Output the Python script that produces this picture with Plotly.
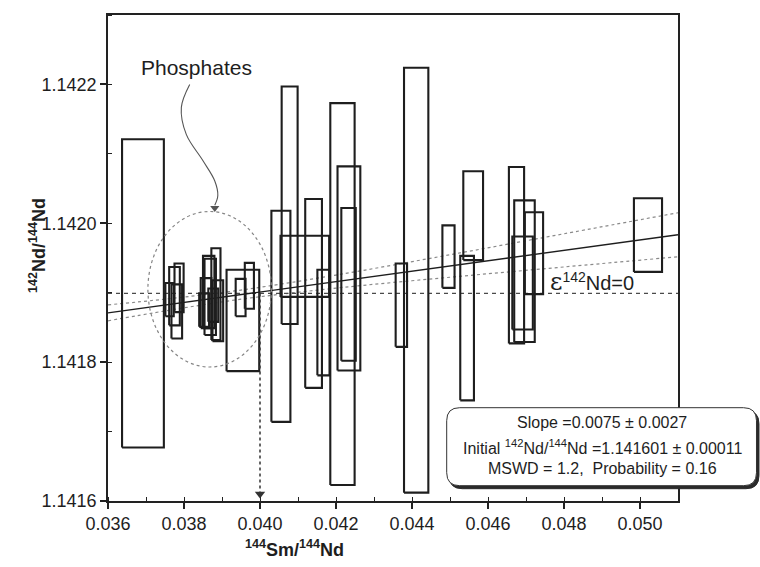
import plotly.graph_objects as go

# ---------------- data ----------------
x_center = [0.03692, 0.03787, 0.03775, 0.03762, 0.03781, 0.03884, 0.03865, 0.03869,
            0.03858, 0.03877, 0.03889, 0.03853, 0.03955, 0.03949, 0.03972, 0.04055,
            0.04078, 0.04118, 0.04141, 0.04167, 0.04217, 0.04234, 0.04233, 0.04411,
            0.04372, 0.04496, 0.04561, 0.04545, 0.04675, 0.04696, 0.04721, 0.04691,
            0.05021]
x_err = [0.00055, 0.00012, 0.00014, 0.00011, 0.00014, 0.00012, 0.00015, 0.00015,
         0.00014, 0.00013, 0.00014, 0.00013, 0.00043, 0.00013, 0.00012, 0.00025,
         0.00021, 0.00064, 0.00022, 0.00016, 0.00032, 0.00030, 0.00019, 0.00032,
         0.00015, 0.00016, 0.00026, 0.00018, 0.00020, 0.00027, 0.00024, 0.00027,
         0.00037]
y_center = [1.141899, 1.141907, 1.141895, 1.141890, 1.141873, 1.141898, 1.141901, 1.141894,
            1.141885, 1.141882, 1.141874, 1.141875, 1.141860, 1.141893, 1.141910, 1.141866,
            1.142026, 1.141938, 1.141899, 1.141857, 1.141898, 1.141935, 1.141912, 1.141918,
            1.141882, 1.141952, 1.142011, 1.141849, 1.141954, 1.141931, 1.141957, 1.141914,
            1.141983]
y_err = [0.000222, 0.000035, 0.000042, 0.000024, 0.000039, 0.000066, 0.000052, 0.000055,
         0.000036, 0.000024, 0.000044, 0.000024, 0.000073, 0.000027, 0.000033, 0.000152,
         0.000171, 0.000044, 0.000136, 0.000076, 0.000275, 0.000147, 0.000110, 0.000306,
         0.000060, 0.000045, 0.000064, 0.000104, 0.000127, 0.000102, 0.000059, 0.000067,
         0.000053]

slope = 0.0075
intercept = 1.141601
eps_zero = 1.141899

env_x = [0.036, 0.0375, 0.0395, 0.042, 0.045, 0.048, 0.051]
env_halfwidth = [0.0000115, 0.0000085, 0.0000066, 0.0000094, 0.0000162, 0.0000239, 0.0000317]

x_range = [0.036, 0.051]
y_range = [1.1416, 1.1423]

ellipse_x = [0.03705, 0.04030]
ellipse_y = [1.141793, 1.142017]

phos_curve_x = [0.03815, 0.03793, 0.03806, 0.03850, 0.03881, 0.03889, 0.03881]
phos_curve_y = [1.142200, 1.142167, 1.142128, 1.142090, 1.142061, 1.142040, 1.142026]

arrow_x = 0.040

FONT = "Liberation Sans, Arial, sans-serif"
INK = "#1e1e1e"

fig = go.Figure()

# error-envelope (dotted gray)
fit_env = [intercept + slope * x for x in env_x]
for sgn in (1, -1):
    fig.add_trace(go.Scatter(
        x=env_x, y=[f + sgn * h for f, h in zip(fit_env, env_halfwidth)],
        mode="lines", line=dict(color="#8a8a8a", width=1.2, dash="dot", shape="spline"),
        hoverinfo="skip", showlegend=False))

# epsilon = 0 reference line (dashed)
fig.add_trace(go.Scatter(
    x=x_range, y=[eps_zero, eps_zero], mode="lines",
    line=dict(color="#4a4a4a", width=1.3, dash="4px,4px"),
    hoverinfo="skip", showlegend=False))

# regression line
fig.add_trace(go.Scatter(
    x=x_range, y=[intercept + slope * x for x in x_range], mode="lines",
    line=dict(color=INK, width=1.4), hoverinfo="skip", showlegend=False))

# error boxes
bx, by = [], []
for xc, xe, yc, ye in zip(x_center, x_err, y_center, y_err):
    x0, x1, y0, y1 = xc - xe, xc + xe, yc - ye, yc + ye
    bx += [x0, x1, x1, x0, x0, None]
    by += [y0, y0, y1, y1, y0, None]
fig.add_trace(go.Scatter(
    x=bx, y=by, mode="lines", line=dict(color=INK, width=2.1),
    hoverinfo="skip", showlegend=False))

# dotted arrow to x axis
fig.add_trace(go.Scatter(
    x=[arrow_x, arrow_x], y=[eps_zero, y_range[0] + 0.000012], mode="lines",
    line=dict(color="#333333", width=1.5, dash="dot"),
    hoverinfo="skip", showlegend=False))
fig.add_trace(go.Scatter(
    x=[arrow_x], y=[y_range[0] + 0.000010], mode="markers",
    marker=dict(symbol="triangle-down", size=9, color="#333333"),
    cliponaxis=False, hoverinfo="skip", showlegend=False))

# phosphates curved arrow
fig.add_trace(go.Scatter(
    x=phos_curve_x, y=phos_curve_y, mode="lines",
    line=dict(color="#555555", width=1.1, shape="spline"),
    hoverinfo="skip", showlegend=False))
fig.add_trace(go.Scatter(
    x=[phos_curve_x[-1]], y=[phos_curve_y[-1] - 0.000004], mode="markers",
    marker=dict(symbol="triangle-down", size=8, color="#555555"),
    hoverinfo="skip", showlegend=False))

# ellipse around phosphates
fig.add_shape(type="circle", xref="x", yref="y",
              x0=ellipse_x[0], x1=ellipse_x[1], y0=ellipse_y[0], y1=ellipse_y[1],
              line=dict(color="#858585", width=1.2, dash="dot"))

# stats box (rounded, with shadow) in paper coordinates
W_PLOT, H_PLOT = 570.0, 486.0


def rounded(x0, y0, x1, y1, r):
    rx, ry = r / W_PLOT, r / H_PLOT
    return (f"M {x0+rx},{y1} L {x1-rx},{y1} Q {x1},{y1} {x1},{y1-ry} "
            f"L {x1},{y0+ry} Q {x1},{y0} {x1-rx},{y0} L {x0+rx},{y0} "
            f"Q {x0},{y0} {x0},{y0+ry} L {x0},{y1-ry} Q {x0},{y1} {x0+rx},{y1} Z")


bx0, bx1, by0, by1 = 0.5942, 1.1377, 0.0315, 0.1920
dx, dy = 2.5 / W_PLOT, 3.0 / H_PLOT
fig.add_shape(type="path", xref="paper", yref="paper", layer="above",
              path=rounded(bx0 + dx, by0 - dy, bx1 + dx, by1 - dy, 13),
              fillcolor="#2a2a2a", line=dict(color="#2a2a2a", width=1))
fig.add_shape(type="path", xref="paper", yref="paper", layer="above",
              path=rounded(bx0, by0, bx1, by1, 13),
              fillcolor="white", line=dict(color="#333333", width=1))

stats_lines = [
    "Slope =0.0075 ± 0.0027",
    "Initial <sup>142</sup>Nd/<sup>144</sup>Nd =1.141601 ± 0.00011",
    "MSWD = 1.2,  Probability = 0.16",
]
stats_y = [0.1619, 0.1105, 0.0673]
for t, yy in zip(stats_lines, stats_y):
    fig.add_annotation(x=0.8667, y=yy, xref="paper", yref="paper", text=t,
                       showarrow=False, xanchor="center", yanchor="middle",
                       font=dict(family=FONT, size=16, color=INK))

# text labels
fig.add_annotation(x=0.03833, y=1.142225, xref="x", yref="y", text="Phosphates",
                   showarrow=False, xanchor="center", yanchor="middle",
                   font=dict(family=FONT, size=21, color=INK))
fig.add_annotation(x=0.04757, y=1.141916, xref="x", yref="y",
                   text="<span style='font-family:DejaVu Serif;font-size:24px'>ε</span><sup>142</sup>Nd=0",
                   showarrow=False, xanchor="left", yanchor="middle",
                   font=dict(family=FONT, size=20, color=INK))

# axis titles
fig.add_annotation(x=(294.5 - 108) / W_PLOT, y=-0.097, xref="paper", yref="paper",
                   text="<b><sup>144</sup>Sm/<sup>144</sup>Nd</b>", showarrow=False,
                   xanchor="center", yanchor="middle",
                   font=dict(family=FONT, size=18, color=INK))
fig.add_annotation(x=(37 - 108) / W_PLOT, y=(501 - 246) / H_PLOT, xref="paper", yref="paper",
                   text="<b><sup>142</sup>Nd/<sup>144</sup>Nd</b>", showarrow=False,
                   textangle=-90, xanchor="center", yanchor="middle",
                   font=dict(family=FONT, size=18, color=INK))

axis_common = dict(showgrid=False, zeroline=False, showline=True, linecolor="#222222",
                   linewidth=1.5, mirror=True, ticks="outside", ticklen=6, tickwidth=1.5,
                   tickcolor="#222222", tickfont=dict(family=FONT, size=18, color=INK))

fig.update_xaxes(range=x_range, tick0=0.036, dtick=0.002, tickformat=".3f",
                 minor=dict(dtick=0.001, ticks="inside", ticklen=4, tickwidth=1.3,
                            tickcolor="#222222"),
                 **axis_common)
fig.update_yaxes(range=y_range, tick0=1.1416, dtick=0.0002, tickformat=".4f",
                 minor=dict(dtick=0.0001, ticks="inside", ticklen=4, tickwidth=1.3,
                            tickcolor="#222222"),
                 **axis_common)

fig.update_layout(width=760, height=567, margin=dict(l=108, r=82, t=15, b=66),
                  plot_bgcolor="white", paper_bgcolor="white", showlegend=False,
                  font=dict(family=FONT))

fig.write_html("out.html")
